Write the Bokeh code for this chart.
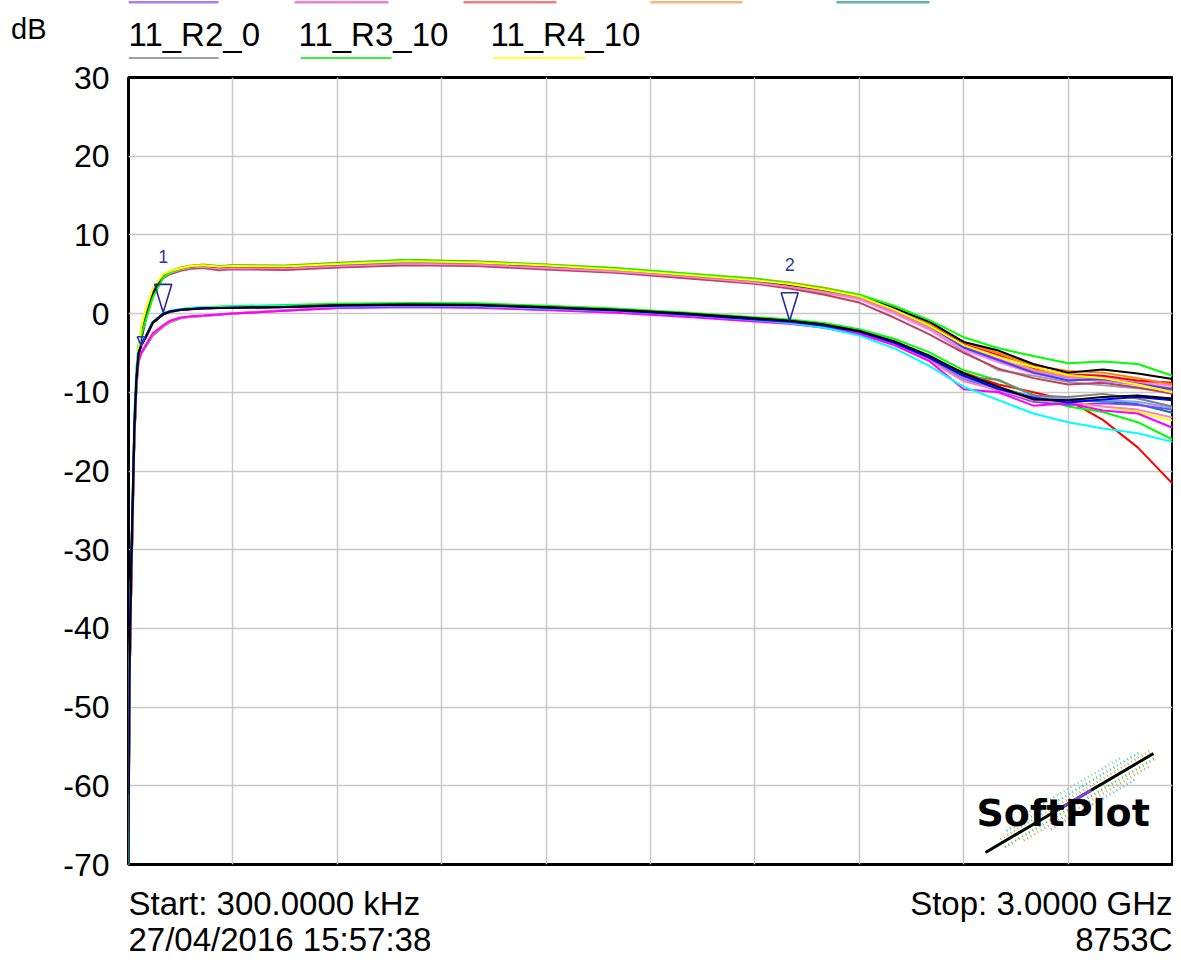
from bokeh.plotting import figure
from bokeh.layouts import column
from bokeh.models import Range1d, FixedTicker
from bokeh.embed import file_html
from bokeh.resources import INLINE
from bokeh.core.properties import value

# ---------------- data (frequency in MHz, response in dB) ----------------
FREQ_MHZ = [0.3, 3, 8, 13, 17, 23, 29, 37, 50, 70, 100, 120, 150, 180, 215, 260, 300,
            450, 600, 800, 1000, 1200, 1400, 1600, 1800, 1900, 2000, 2100, 2200, 2300,
            2400, 2500, 2600, 2700, 2800, 2900, 3000]

# "+6 dB" group of traces
up_gray   = [-70, -48, -35, -24, -16, -9.1, -5.6, -3.2, -0.6, 2.5, 4.7, 5.1, 5.5, 5.75, 5.85, 5.6, 5.7, 5.6, 5.9, 6.2, 6.1, 5.7, 5.3, 4.6, 3.9, 3.3, 2.6, 2.0, 0.2, -1.9, -4.8, -7.2, -7.9, -8.7, -9.1, -9.5, -10.0]
up_maroon = [-70, -48, -35, -24, -16, -9.3, -5.7, -3.3, -0.8, 2.3, 4.5, 5.0, 5.45, 5.7, 5.8, 5.5, 5.65, 5.55, 5.85, 6.15, 6.05, 5.6, 5.2, 4.5, 3.8, 3.2, 2.4, 1.4, -0.5, -2.6, -5.0, -7.0, -8.2, -9.0, -8.8, -9.4, -10.2]
up_purple = [-71, -48, -35, -24, -16, -9.0, -5.5, -3.1, -0.5, 2.6, 4.7, 5.3, 5.7, 5.95, 6.05, 5.85, 5.95, 5.9, 6.2, 6.5, 6.4, 6.0, 5.55, 4.85, 4.15, 3.6, 2.9, 2.1, 0.4, -1.6, -4.4, -6.0, -7.4, -8.2, -8.6, -9.0, -9.8]
up_pink   = [-69, -47, -34, -24, -16, -9.1, -5.6, -3.2, -0.7, 2.4, 4.6, 5.15, 5.6, 5.85, 5.95, 5.7, 5.8, 5.75, 6.05, 6.35, 6.25, 5.8, 5.35, 4.7, 3.95, 3.4, 2.7, 1.8, 0.0, -2.0, -4.6, -6.2, -7.6, -8.4, -8.0, -8.6, -9.2]
up_salmon = [-71, -48, -35, -24, -16, -9.2, -5.6, -3.2, -0.6, 2.5, 4.7, 5.25, 5.7, 5.95, 6.05, 5.8, 5.9, 5.85, 6.15, 6.45, 6.35, 5.95, 5.5, 4.8, 4.1, 3.5, 2.8, 2.0, 0.3, -1.7, -4.2, -5.8, -7.2, -8.0, -8.4, -8.8, -9.5]
up_red    = [-70, -47, -34, -23.5, -15.5, -8.8, -5.4, -3.0, -0.4, 2.7, 4.8, 5.35, 5.8, 6.05, 6.15, 6.0, 6.1, 6.0, 6.35, 6.7, 6.55, 6.15, 5.7, 5.0, 4.3, 3.8, 3.1, 2.3, 0.7, -1.3, -3.9, -5.3, -6.9, -7.7, -7.9, -8.5, -8.8]
up_blue   = [-68, -47, -34, -23.5, -15.5, -8.9, -5.5, -3.1, -0.5, 2.6, 4.75, 5.3, 5.75, 6.0, 6.1, 5.9, 6.0, 5.95, 6.25, 6.6, 6.45, 6.05, 5.6, 4.9, 4.2, 3.65, 3.0, 2.2, 0.5, -1.5, -4.3, -5.9, -7.5, -8.5, -8.3, -8.9, -9.6]
up_orange = [-72, -48, -35, -24, -16, -9.0, -5.5, -3.0, -0.4, 2.7, 4.8, 5.4, 5.85, 6.1, 6.25, 6.05, 6.15, 6.1, 6.45, 6.8, 6.65, 6.25, 5.8, 5.1, 4.45, 3.95, 3.3, 2.4, 0.8, -1.2, -3.6, -5.0, -6.6, -7.3, -7.5, -8.2, -9.0]
up_black  = [-70, -48, -35, -24, -16, -9.0, -5.5, -3.1, -0.5, 2.6, 4.8, 5.3, 5.75, 6.0, 6.1, 5.95, 6.05, 6.0, 6.35, 6.75, 6.55, 6.1, 5.7, 5.0, 4.3, 3.7, 3.05, 2.3, 0.7, -1.0, -3.6, -4.7, -6.4, -7.5, -7.1, -7.6, -8.3]
up_green  = [-66, -46, -33, -21, -13, -7.0, -4.0, -2.8, -0.8, 2.0, 4.6, 5.2, 5.7, 6.0, 6.15, 6.0, 6.1, 6.05, 6.4, 6.8, 6.6, 6.2, 5.75, 5.1, 4.4, 3.85, 3.2, 2.4, 1.0, -0.8, -3.0, -4.4, -5.4, -6.3, -6.1, -6.4, -7.9]
up_yellow = [-70, -47, -34, -23, -15, -8.0, -4.5, -1.5, 0.5, 3.2, 5.0, 5.4, 5.8, 6.05, 6.15, 5.95, 6.05, 6.0, 6.3, 6.65, 6.5, 6.1, 5.6, 4.95, 4.25, 3.75, 3.05, 2.2, 0.5, -1.5, -4.0, -5.5, -6.8, -7.8, -8.2, -9.0, -10.0]

# "0 dB" group of traces
low_yellow    = [-70, -45, -32, -22, -15, -8.4, -5.1, -4.0, -3.0, -1.2, -0.1, 0.25, 0.5, 0.6, 0.7, 0.75, 0.8, 0.95, 1.15, 1.25, 1.2, 0.9, 0.55, 0.05, -0.55, -0.85, -1.35, -2.3, -3.6, -5.5, -8.0, -9.4, -10.8, -11.4, -11.8, -12.5, -13.6]
low_red       = [-68, -46, -33, -23, -15, -8.6, -5.3, -4.1, -3.0, -1.2, -0.1, 0.2, 0.45, 0.55, 0.65, 0.7, 0.7, 0.85, 1.05, 1.15, 1.05, 0.75, 0.4, -0.1, -0.7, -1.0, -1.5, -2.4, -3.8, -5.6, -7.5, -9.0, -10.0, -11.0, -13.5, -17.0, -21.6]
low_green     = [-70, -45, -32, -22, -14.5, -8.2, -5.0, -3.9, -2.9, -1.1, 0.0, 0.3, 0.55, 0.7, 0.8, 0.9, 0.95, 1.1, 1.25, 1.35, 1.3, 1.0, 0.65, 0.15, -0.45, -0.75, -1.2, -2.0, -3.2, -4.9, -7.2, -8.5, -10.3, -11.8, -12.5, -13.8, -16.0]
low_teal      = [-70, -45, -32, -22.5, -15, -8.4, -5.1, -3.9, -2.9, -1.1, -0.05, 0.3, 0.5, 0.6, 0.7, 0.75, 0.8, 0.9, 1.1, 1.2, 1.15, 0.85, 0.5, 0.0, -0.6, -0.9, -1.4, -2.2, -3.6, -5.4, -7.8, -9.4, -10.6, -11.0, -11.1, -11.5, -12.6]
low_purple    = [-71, -46, -33, -23, -15, -8.4, -5.2, -4.0, -3.0, -1.2, -0.1, 0.2, 0.45, 0.55, 0.65, 0.7, 0.7, 0.8, 0.95, 1.05, 1.0, 0.7, 0.4, -0.1, -0.7, -1.0, -1.55, -2.4, -3.8, -5.8, -8.3, -9.8, -11.2, -11.6, -11.4, -11.6, -12.2]
low_lightblue = [-72, -48, -35, -25, -16.5, -9.4, -6.2, -5.0, -4.1, -2.7, -1.6, -1.0, -0.6, -0.4, -0.3, -0.15, 0.0, 0.45, 0.8, 0.95, 0.85, 0.55, 0.25, -0.25, -0.85, -1.1, -1.6, -2.5, -3.8, -5.7, -8.2, -9.5, -10.6, -10.8, -11.0, -11.2, -12.0]
low_gray      = [-74, -48, -35, -25, -16.5, -9.5, -6.2, -5.1, -4.2, -2.8, -1.7, -1.1, -0.6, -0.4, -0.3, -0.15, 0.0, 0.35, 0.7, 0.85, 0.8, 0.5, 0.2, -0.3, -0.9, -1.2, -1.8, -2.6, -3.9, -5.8, -8.0, -8.4, -10.4, -10.6, -10.2, -10.8, -11.8]
low_pink      = [-69, -47, -34, -24, -16, -9.2, -6.0, -4.9, -4.0, -2.6, -1.6, -1.0, -0.55, -0.4, -0.3, -0.1, 0.05, 0.4, 0.75, 0.9, 0.8, 0.5, 0.15, -0.35, -0.95, -1.25, -1.7, -2.5, -3.9, -5.9, -8.6, -9.7, -11.0, -11.2, -11.8, -12.2, -13.2]
low_magenta   = [-66, -47, -34, -24, -16, -9.0, -6.0, -5.0, -4.0, -2.5, -1.5, -0.9, -0.5, -0.35, -0.25, -0.1, 0.0, 0.35, 0.7, 0.85, 0.75, 0.45, 0.1, -0.4, -1.0, -1.3, -1.8, -2.6, -4.0, -6.0, -9.6, -10.0, -11.7, -11.4, -12.3, -12.7, -14.5]
low_cyan      = [-70, -45, -32, -22, -15, -8.3, -5.1, -3.9, -2.9, -1.1, 0.0, 0.35, 0.6, 0.7, 0.8, 0.85, 0.9, 0.95, 0.9, 1.0, 0.95, 0.65, 0.35, -0.15, -0.8, -1.2, -1.8, -2.8, -4.4, -6.6, -9.3, -11.0, -12.7, -13.8, -14.6, -15.2, -16.3]
low_blue      = [-61, -44, -31, -22, -14, -8.0, -5.0, -4.0, -2.9, -1.1, 0.0, 0.3, 0.5, 0.6, 0.65, 0.7, 0.75, 0.85, 1.0, 1.1, 1.05, 0.75, 0.4, -0.1, -0.75, -1.05, -1.55, -2.3, -3.7, -5.6, -7.9, -9.6, -10.7, -11.3, -10.9, -10.6, -11.0]
low_black     = [-72, -46, -33, -23, -15, -8.5, -5.2, -4.0, -3.0, -1.2, -0.1, 0.25, 0.5, 0.6, 0.7, 0.7, 0.75, 0.85, 1.05, 1.15, 1.1, 0.8, 0.5, 0.0, -0.6, -0.9, -1.4, -2.2, -3.5, -5.3, -7.6, -9.3, -10.9, -11.0, -10.6, -10.4, -10.8]

# traces in drawing order (values, colour)
TRACES = [
    (up_gray, "#a0a0a0"), (up_maroon, "#c04060"), (up_purple, "#c080ff"), (up_pink, "#ff80ff"),
    (up_salmon, "#ff8080"), (up_red, "#ff0000"), (up_blue, "#4040ff"), (up_orange, "#ff8000"),
    (up_black, "#000000"), (up_green, "#00ff00"), (up_yellow, "#ffff00"),
    (low_yellow, "#ffff00"), (low_red, "#ff0000"), (low_green, "#00ff00"), (low_teal, "#008080"),
    (low_purple, "#8040ff"), (low_lightblue, "#80a0ff"), (low_gray, "#808080"), (low_pink, "#ff80c0"),
    (low_magenta, "#ff00ff"), (low_cyan, "#00ffff"), (low_blue, "#0000ff"), (low_black, "#000000"),
]

# markers
MARKER_FREQ = [100, 1900]
MARKER_DB = [0.15, -0.9]
MARKER_TEXT = ["1", "2"]
SMALL_MARKER_FREQ = [37]
SMALL_MARKER_DB = [-4.1]

# axis / annotation texts
Y_TICKS = [-70, -60, -50, -40, -30, -20, -10, 0, 10, 20, 30]
X_GRID = [300, 600, 900, 1200, 1500, 1800, 2100, 2400, 2700]
LEGEND_TOP = ["#b07cf2", "#f27fd0", "#f08080", "#f5b57f", "#5fb3a8"]
LEGEND_NAMES = ["11_R2_0", "11_R3_10", "11_R4_10"]
LEGEND_COLORS = ["#a0a0a0", "#3cf03c", "#ffff40"]
UNIT_TEXT = "dB"
START_TEXT = "Start: 300.0000 kHz"
STOP_TEXT = "Stop: 3.0000 GHz"
DATE_TEXT = "27/04/2016 15:57:38"
MODEL_TEXT = "8753C"

# ---------------- layout (page pixel geometry) ----------------
X_START, X_STOP = 0.3, 3000.0
Y_MIN, Y_MAX = -70, 30
W = 1173
HEAD_H, MAIN_BOTTOM, TOTAL_H = 59, 883, 958
FX0, FX1, FY0, FY1 = 128, 1172, 77, 864      # frame edges on the page
MX = (X_STOP - X_START) / (FX1 - FX0)         # MHz per pixel
MY = (Y_MAX - Y_MIN) / (FY1 - FY0)            # dB per pixel
FONT = "Liberation Sans"
TXT = "33px"


def rx(px):
    return X_START + (px - FX0) * MX


def ry(py):
    return Y_MAX - (py - FY0) * MY


def strip(top, bottom, **kw):
    # frame is aligned with the main plot's frame by the column layout (x = page pixels)
    f = figure(width=W, height=bottom - top, output_backend="svg", toolbar_location=None,
               x_range=Range1d(FX0, FX1), y_range=Range1d(bottom, top),
               x_axis_type=None, min_border_left=FX0, min_border_right=W - FX1,
               min_border_top=0, min_border_bottom=0, **kw)
    f.outline_line_color = None
    f.background_fill_color = "white"
    f.border_fill_color = "white"
    return f


# ---- header: y-unit and legend ----
head = strip(0, HEAD_H)
head.ygrid.visible = False
hax = head.yaxis[0]
hax.ticker = FixedTicker(ticks=[28])
hax.major_label_overrides = {28: UNIT_TEXT}
hax.axis_line_color = None
hax.major_tick_line_color = None
hax.minor_tick_line_color = None
hax.major_tick_out = 0
hax.major_tick_in = 0
hax.major_label_standoff = 82
hax.major_label_text_font = FONT
hax.major_label_text_font_size = "29px"
hax.major_label_text_color = "black"
head.text([128, 298, 490], [34, 34, 34], text=LEGEND_NAMES, text_font=value(FONT),
          text_font_size=TXT, text_color="black", text_baseline="middle", text_align="left")
head.quad(left=[128, 294, 463, 650, 836], right=[218, 388, 556, 742, 929],
          top=[0.6] * 5, bottom=[2.9] * 5, fill_color=LEGEND_TOP, line_color=None)
head.quad(left=[128, 300, 493], right=[218, 391, 585], top=[56.5] * 3, bottom=[58.8] * 3,
          fill_color=LEGEND_COLORS, line_color=None)

# ---- main plot ----
p = figure(width=W, height=MAIN_BOTTOM - HEAD_H, output_backend="svg", toolbar_location=None,
           x_range=Range1d(X_START, X_STOP), y_range=Range1d(Y_MIN, Y_MAX),
           min_border_left=FX0, min_border_right=W - FX1,
           min_border_top=FY0 - HEAD_H, min_border_bottom=MAIN_BOTTOM - FY1)
p.background_fill_color = "white"
p.border_fill_color = "white"
p.outline_line_color = "black"
p.outline_line_width = 3

p.xaxis.visible = False
p.xgrid.ticker = FixedTicker(ticks=X_GRID)
p.ygrid.ticker = FixedTicker(ticks=Y_TICKS)
for g in (p.xgrid, p.ygrid):
    g.grid_line_color = "#c8c8c8"
    g.grid_line_width = 1.5

ax = p.yaxis[0]
ax.ticker = FixedTicker(ticks=Y_TICKS)
ax.major_label_overrides = {t: str(t) for t in Y_TICKS}
ax.axis_line_color = None
ax.major_tick_line_color = None
ax.minor_tick_line_color = None
ax.major_tick_out = 0
ax.major_tick_in = 0
ax.major_label_standoff = 19
ax.major_label_text_font = FONT
ax.major_label_text_font_size = "32px"
ax.major_label_text_color = "black"

for vals, col in TRACES:
    p.line(FREQ_MHZ, vals, line_color=col, line_width=2)

# markers: down-pointing triangles whose tip sits on the trace
MW, MH = 8.5, 28
p.patches([[f - MW * MX, f + MW * MX, f] for f in MARKER_FREQ],
          [[d + MH * MY, d + MH * MY, d] for d in MARKER_DB],
          fill_color=None, line_color="#2a2a9a", line_width=1.6)
p.text(MARKER_FREQ, [d + 56 * MY for d in MARKER_DB], text=MARKER_TEXT,
       text_font_size="18px", text_color="#3535a5", text_align="center",
       text_baseline="middle", text_font=value(FONT))
p.patches([[f - 4 * MX, f + 4 * MX, f] for f in SMALL_MARKER_FREQ],
          [[d + 9 * MY, d + 9 * MY, d] for d in SMALL_MARKER_DB],
          fill_color=None, line_color="#2a2aff", line_width=1.5)

# SoftPlot logo (decoration)
qx0, qy0, qx1, qy1 = 985, 852, 1153, 753
dxq, dyq = qx1 - qx0, qy1 - qy0
ln = (dxq ** 2 + dyq ** 2) ** 0.5
ux, uy = dxq / ln, dyq / ln
nx, ny = -uy, ux
speck = [(-13, 0.30, 0.85, "#80d0a0"), (-8, 0.15, 0.95, "#30c0c0"), (-4, 0.1, 1.0, "#c8b830"),
         (5, 0.1, 1.0, "#40c040"), (9, 0.2, 0.95, "#e09850"), (13, 0.35, 0.85, "#60b0e0")]
for off, a, b, col in speck:
    xs = [rx(qx0 + ux * ln * t + nx * off) for t in (a, b)]
    ys = [ry(qy0 + uy * ln * t + ny * off) for t in (a, b)]
    p.line(xs, ys, line_color=col, line_width=2.5, line_dash="1 3")
p.line([rx(qx0), rx(qx1)], [ry(qy0), ry(qy1)], line_color="black", line_width=3)
p.line([rx(qx0 + ux * ln * 0.43), rx(qx0 + ux * ln * 0.63)],
       [ry(qy0 + uy * ln * 0.43), ry(qy0 + uy * ln * 0.63)], line_color="#8040e0", line_width=3)
p.text([rx(976)], [ry(812)], text=["SoftPlot"], text_font=value("DejaVu Sans"),
       text_font_style="bold", text_font_size="38px", text_color="black",
       text_baseline="middle", text_align="left")

# ---- footer: sweep info ----
foot = strip(MAIN_BOTTOM, TOTAL_H, y_axis_type=None)
foot.text([128, 128], [903, 939], text=[START_TEXT, DATE_TEXT], text_font=value(FONT),
          text_font_size=TXT, text_color="black", text_baseline="middle", text_align="left")
foot.text([1172, 1172], [903, 939], text=[STOP_TEXT, MODEL_TEXT], text_font=value(FONT),
          text_font_size=TXT, text_color="black", text_baseline="middle", text_align="right")

layout = column(head, p, foot, spacing=0)
open("out.html", "w").write(file_html(layout, INLINE))
